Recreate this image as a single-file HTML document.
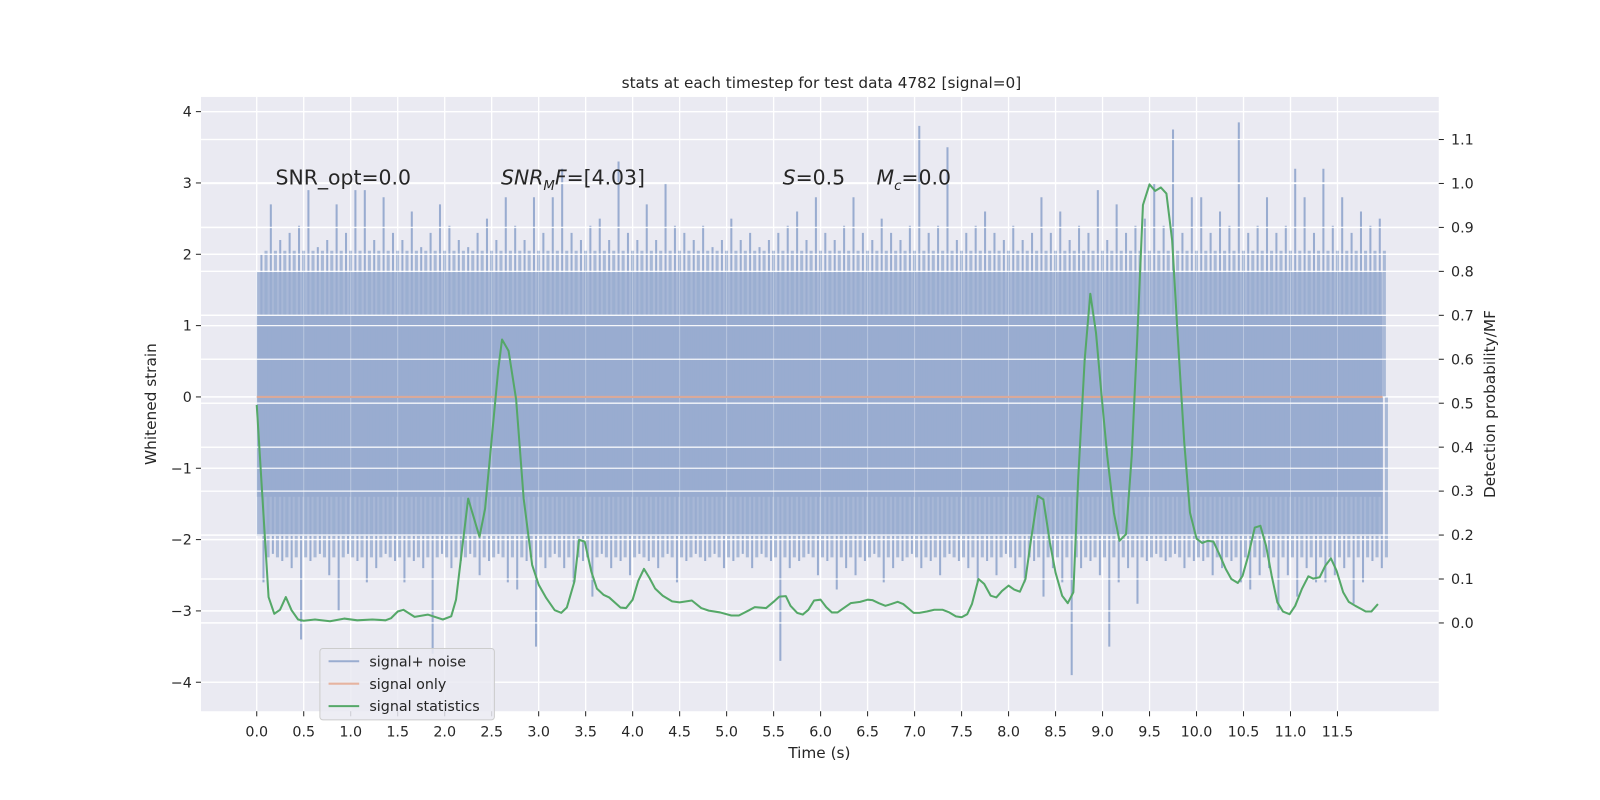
<!DOCTYPE html>
<html><head><meta charset="utf-8">
<style>
html,body{margin:0;padding:0;background:#fff;width:1600px;height:800px;overflow:hidden;}
svg{display:block;font-family:"DejaVu Sans","Liberation Sans",sans-serif;}
</style></head>
<body>
<svg id="chart" width="1600" height="800" viewBox="0 0 1600 800"><g id="root" transform="scale(1.0204)"></g></svg>
<script>
// ---- data ----
const xTicks = [0,0.5,1,1.5,2,2.5,3,3.5,4,4.5,5,5.5,6,6.5,7,7.5,8,8.5,9,9.5,10,10.5,11,11.5];
const xTickLabels = ["0.0","0.5","1.0","1.5","2.0","2.5","3.0","3.5","4.0","4.5","5.0","5.5","6.0","6.5","7.0","7.5","8.0","8.5","9.0","9.5","10.0","10.5","11.0","11.5"];
const yLeftTicks = [-4,-3,-2,-1,0,1,2,3,4];
const yLeftLabels = ["\u22124","\u22123","\u22122","\u22121","0","1","2","3","4"];
const yRightTicks = [0,0.1,0.2,0.3,0.4,0.5,0.6,0.7,0.8,0.9,1.0,1.1];
const yRightLabels = ["0.0","0.1","0.2","0.3","0.4","0.5","0.6","0.7","0.8","0.9","1.0","1.1"];
// signal statistics (green)
const statT = [0,0.126,0.187,0.248,0.309,0.37,0.44,0.5,0.62,0.78,0.93,1.07,1.23,1.37,1.43,1.5,1.56,1.68,1.82,1.98,2.07,2.12,2.25,2.37,2.43,2.57,2.61,2.68,2.76,2.84,2.93,3.0,3.08,3.17,3.24,3.3,3.38,3.43,3.49,3.56,3.62,3.69,3.75,3.87,3.93,4.0,4.06,4.12,4.18,4.24,4.32,4.42,4.5,4.63,4.73,4.81,4.93,5.05,5.13,5.24,5.3,5.42,5.5,5.56,5.63,5.68,5.75,5.81,5.87,5.93,6.0,6.06,6.12,6.18,6.24,6.32,6.42,6.5,6.55,6.62,6.69,6.75,6.82,6.88,6.94,6.99,7.05,7.13,7.21,7.3,7.37,7.44,7.5,7.56,7.61,7.68,7.74,7.81,7.87,7.93,8.0,8.06,8.12,8.18,8.24,8.31,8.37,8.44,8.5,8.57,8.63,8.69,8.74,8.81,8.87,8.93,8.99,9.05,9.12,9.18,9.25,9.31,9.37,9.43,9.5,9.56,9.62,9.68,9.74,9.8,9.87,9.93,10.0,10.06,10.12,10.18,10.25,10.31,10.37,10.44,10.49,10.55,10.62,10.68,10.74,10.8,10.86,10.92,10.99,11.05,11.12,11.19,11.24,11.31,11.37,11.43,11.49,11.56,11.62,11.69,11.75,11.8,11.86,11.93];
const statV = [0.496,0.059,0.021,0.030,0.059,0.029,0.008,0.005,0.008,0.004,0.010,0.006,0.008,0.006,0.011,0.026,0.030,0.014,0.019,0.008,0.015,0.053,0.283,0.196,0.260,0.577,0.645,0.619,0.509,0.283,0.132,0.087,0.057,0.029,0.023,0.035,0.094,0.189,0.185,0.117,0.078,0.064,0.058,0.035,0.034,0.053,0.096,0.123,0.102,0.078,0.062,0.049,0.047,0.051,0.034,0.028,0.024,0.017,0.017,0.029,0.036,0.034,0.048,0.060,0.061,0.039,0.023,0.019,0.030,0.051,0.053,0.036,0.024,0.024,0.033,0.045,0.048,0.053,0.052,0.045,0.039,0.043,0.048,0.043,0.032,0.023,0.023,0.026,0.030,0.030,0.024,0.015,0.013,0.020,0.043,0.100,0.089,0.062,0.058,0.073,0.085,0.076,0.071,0.100,0.191,0.289,0.281,0.183,0.115,0.062,0.045,0.070,0.327,0.599,0.749,0.660,0.516,0.380,0.251,0.187,0.202,0.380,0.652,0.951,0.998,0.983,0.991,0.977,0.871,0.652,0.410,0.251,0.192,0.182,0.187,0.185,0.153,0.123,0.100,0.091,0.107,0.153,0.217,0.221,0.175,0.107,0.047,0.026,0.020,0.039,0.077,0.106,0.101,0.104,0.130,0.147,0.119,0.070,0.048,0.039,0.032,0.026,0.026,0.043];
// noise peak values per 0.1 s bin (bin centres 0.05 .. 11.95)
const noiseUpper = [2.0,2.7,2.2,2.3,2.4,2.9,2.1,2.2,2.7,2.3,2.9,2.9,2.2,2.8,2.3,2.2,2.6,2.1,2.3,2.7,2.4,2.2,2.1,2.3,2.5,2.2,2.8,2.4,2.2,2.8,2.3,2.8,3.2,2.3,2.2,2.4,2.5,2.2,3.3,2.3,2.2,2.7,2.2,3.0,2.4,2.3,2.2,2.4,2.1,2.2,2.5,2.2,2.3,2.1,2.2,2.3,2.4,2.6,2.2,2.8,2.3,2.2,2.4,2.8,2.3,2.2,2.5,2.3,2.2,2.4,3.8,2.3,2.4,3.5,2.2,2.3,2.4,2.6,2.3,2.2,2.4,2.2,2.3,2.8,2.3,2.6,2.2,2.4,2.3,2.9,2.2,2.7,2.3,2.4,2.5,3.0,2.4,3.75,2.3,2.8,2.8,2.3,2.6,2.4,3.85,2.3,2.4,2.8,2.3,2.4,3.2,2.8,2.3,3.2,2.4,2.8,2.3,2.6,2.4,2.5];
const noiseLower = [-2.6,-2.2,-2.3,-2.4,-3.4,-2.3,-2.2,-2.5,-3.0,-2.2,-2.3,-2.6,-2.4,-2.2,-2.3,-2.6,-2.3,-2.4,-3.6,-2.2,-2.4,-2.3,-2.2,-2.5,-2.3,-2.2,-2.6,-2.7,-2.3,-3.5,-2.4,-2.2,-2.4,-2.6,-2.3,-2.8,-2.2,-2.4,-2.3,-2.5,-2.2,-2.3,-2.4,-2.2,-2.6,-2.3,-2.2,-2.3,-2.2,-2.4,-2.3,-2.2,-2.4,-2.2,-2.3,-3.7,-2.4,-2.3,-2.2,-2.5,-2.3,-2.7,-2.4,-2.5,-2.3,-2.2,-2.6,-2.4,-2.3,-2.2,-2.4,-2.3,-2.5,-2.2,-2.3,-2.4,-2.6,-2.3,-2.5,-2.2,-2.4,-2.6,-2.3,-2.8,-2.4,-2.6,-3.9,-2.4,-2.3,-2.5,-3.5,-2.6,-2.4,-2.9,-2.3,-2.2,-2.3,-2.2,-2.4,-2.3,-2.3,-2.5,-2.4,-2.3,-2.6,-2.7,-2.5,-2.4,-3.0,-2.5,-2.8,-2.4,-2.6,-2.6,-2.5,-2.4,-2.9,-2.6,-2.3,-2.4];

// ---- axes (internal coords; root group scaled by 1.0204) ----
const PL=197, PR=1410, PT=95, PB=697;
const X0=251.6, XS=92.1;
const sx = t => X0 + t*XS;
const syL = v => 389 - v*69.9;
const syR = v => 610.5 - v*430.7;

const svg = document.getElementById('root');
const NS = 'http://www.w3.org/2000/svg';
function mk(tag, attrs, parent){
  const e = document.createElementNS(NS, tag);
  for (const k in attrs) e.setAttribute(k, attrs[k]);
  (parent||svg).appendChild(e);
  return e;
}

const bg = mk('rect',{x:PL,y:PT,width:PR-PL,height:PB-PT,fill:'#eaeaf2'});



// grid
const grid = mk('g',{stroke:'#ffffff','stroke-width':1.3});


xTicks.forEach(t=>mk('line',{x1:sx(t),x2:sx(t),y1:PT,y2:PB},grid));
yLeftTicks.forEach(v=>mk('line',{x1:PL,x2:PR,y1:syL(v),y2:syL(v)},grid));
yRightTicks.forEach(v=>mk('line',{x1:PL,x2:PR,y1:syR(v),y2:syR(v)},grid));

// noise band + spikes
const noise = mk('g',{});


mk('rect',{x:sx(0),y:syL(1.15),width:sx(11.98)-sx(0),height:syL(-1.4)-syL(1.15),fill:'#99acd0'},noise);
mk('rect',{x:sx(0),y:syL(1.75),width:sx(11.98)-sx(0),height:syL(-1.95)-syL(1.75),fill:'#99acd0','fill-opacity':0.82},noise);
noiseUpper.forEach((v,i)=>{
  const t = 0.05 + i*0.1;
  const ln = mk('line',{x1:sx(t),x2:sx(t),y1:syL(0),y2:syL(v),stroke:'#99acd0','stroke-width':2},noise);
  
  
  const ln2 = mk('line',{x1:sx(t)+4.5,x2:sx(t)+4.5,y1:syL(0),y2:syL(2.05),stroke:'#99acd0','stroke-width':3,'stroke-opacity':0.8},noise);
  
  
});
noiseLower.forEach((v,i)=>{
  const t = 0.05 + i*0.1;
  const ln = mk('line',{x1:sx(t)+2,x2:sx(t)+2,y1:syL(0),y2:syL(v),stroke:'#99acd0','stroke-width':2},noise);
  
  
  const ln2 = mk('line',{x1:sx(t)+6.5,x2:sx(t)+6.5,y1:syL(0),y2:syL(-2.25),stroke:'#99acd0','stroke-width':3,'stroke-opacity':0.8},noise);
  
  
});
// grid lines show through noise
const grid2 = mk('g',{stroke:'#ffffff','stroke-width':1.3,'stroke-opacity':0.9});
yLeftTicks.forEach(v=>mk('line',{x1:PL,x2:PR,y1:syL(v),y2:syL(v)},grid2));
yRightTicks.forEach(v=>mk('line',{x1:PL,x2:PR,y1:syR(v),y2:syR(v)},grid2));
const grid3 = mk('g',{stroke:'#ffffff','stroke-width':1,'stroke-opacity':0.3});
xTicks.forEach(t=>mk('line',{x1:sx(t),x2:sx(t),y1:PT,y2:PB},grid3));

// signal only
const so = mk('line',{x1:sx(0),x2:sx(11.98),y1:syL(0),y2:syL(0),stroke:'#d9a99a','stroke-width':2});



// signal statistics
const pts = statT.map((t,i)=>sx(t).toFixed(1)+','+syR(statV[i]).toFixed(1)).join(' ');
const st = mk('polyline',{points:pts,fill:'none',stroke:'#55a868','stroke-width':2,'stroke-linejoin':'round'});



// ticks & labels
const txt = (x,y,s,attrs)=>{const e=mk('text',Object.assign({x:x,y:y,fill:'#262626','font-size':14},attrs||{}));e.textContent=s;return e;};
const xt = mk('g',{});


xTicks.forEach((t,i)=>{
  mk('line',{x1:sx(t),x2:sx(t),y1:PB,y2:PB+5,stroke:'#262626','stroke-width':1},xt);
  const l = txt(sx(t),PB+25,xTickLabels[i],{'text-anchor':'middle'});
  
  
});
const ylt = mk('g',{});


yLeftTicks.forEach((v,i)=>{
  mk('line',{x1:PL-5,x2:PL,y1:syL(v),y2:syL(v),stroke:'#262626'},ylt);
  const l = txt(PL-9,syL(v)+5,yLeftLabels[i],{'text-anchor':'end'});
  
  
});
const yrt = mk('g',{});


yRightTicks.forEach((v,i)=>{
  mk('line',{x1:PR,x2:PR+5,y1:syR(v),y2:syR(v),stroke:'#262626'},yrt);
  const l = txt(PR+12,syR(v)+5,yRightLabels[i],{'text-anchor':'start'});
  
  
});

function T(x,y,s,a,name){const e=document.createElementNS(NS,'text');e.setAttribute('x',x);e.setAttribute('y',y);e.setAttribute('fill','#262626');for(const k in a)e.setAttribute(k,a[k]);e.innerHTML=s;


svg.appendChild(e);return e;}
T(805,86,'stats at each timestep for test data 4782 [signal=0]',{'text-anchor':'middle','font-size':15},'chart-title');
T(803,743,'Time (s)',{'text-anchor':'middle','font-size':15},'x-axis-title');
T(153,396,'Whitened strain',{'text-anchor':'middle','font-size':15,transform:'rotate(-90 153 396)'},'y-left-axis-title');
T(1465,396,'Detection probability/MF',{'text-anchor':'middle','font-size':15,transform:'rotate(-90 1465 396)'},'y-right-axis-title');
T(270,181,'SNR_opt=0.0',{'font-size':20},'annotation-snr-opt');
T(491,181,'<tspan font-style="italic">SNR</tspan><tspan font-style="italic" font-size="13" dy="5">M</tspan><tspan font-style="italic" dy="-5">F</tspan>=[4.03]',{'font-size':20},'annotation-snr-mf');
T(767,181,'<tspan font-style="italic">S</tspan>=0.5',{'font-size':20},'annotation-s');
T(859,181,'<tspan font-style="italic">M</tspan><tspan font-style="italic" font-size="13" dy="5">c</tspan><tspan dy="-5">=0.0</tspan>',{'font-size':20},'annotation-mc');
// legend
const g=document.createElementNS(NS,'g');


svg.appendChild(g);
const r=document.createElementNS(NS,'rect');
[['x',313.5],['y',635.5],['width',171],['height',70],['rx',3],['fill','#eaeaf2'],['fill-opacity',0.85],['stroke','#cccccc']].forEach(a=>r.setAttribute(a[0],a[1]));
g.appendChild(r);
const items=[['signal+ noise','#99acd0',653],['signal only','#e6b3a0',675],['signal statistics','#55a868',697]];
items.forEach(([lab,col,y])=>{
 const l=document.createElementNS(NS,'line');
 [['x1',322],['x2',352],['y1',y-5],['y2',y-5],['stroke',col],['stroke-width',2]].forEach(a=>l.setAttribute(a[0],a[1]));
 g.appendChild(l);
 const tx=document.createElementNS(NS,'text');
 [['x',362],['y',y],['font-size',14],['fill','#262626']].forEach(a=>tx.setAttribute(a[0],a[1]));
 tx.textContent=lab;
 
 
 g.appendChild(tx);
});
</script>
</body></html>
